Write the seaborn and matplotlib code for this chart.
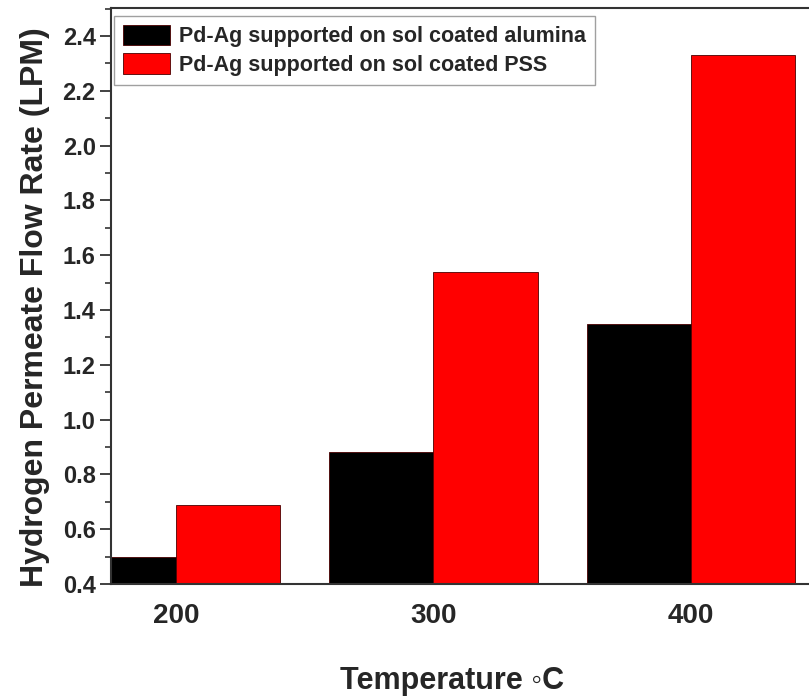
import numpy as np
import pandas as pd
import matplotlib
matplotlib.use("Agg")
import matplotlib.pyplot as plt
import seaborn as sns
from matplotlib.ticker import MultipleLocator

# Data
temperatures = ["200", "300", "400"]
alumina_flow = [0.50, 0.88, 1.35]
pss_flow = [0.69, 1.54, 2.33]
series_names = ["Pd-Ag supported on sol coated alumina",
                "Pd-Ag supported on sol coated PSS"]

df = pd.DataFrame({
    "Temperature": temperatures * 2,
    "Flow": alumina_flow + pss_flow,
    "Support": [series_names[0]] * 3 + [series_names[1]] * 3,
})

sns.set_theme(style="ticks")
plt.rcParams['font.family'] = ['Liberation Sans', 'DejaVu Sans']
plt.rcParams['font.weight'] = 'bold'

fig = plt.figure(figsize=(8.09, 6.98), dpi=100)
ax = fig.add_axes([111 / 809, 1 - 584 / 698, 698 / 809, 576 / 698])

sns.barplot(data=df, x="Temperature", y="Flow", hue="Support",
            palette=["#000000", "#FF0000"], saturation=1, width=0.81, gap=0,
            edgecolor="#4a0000", linewidth=0.6, ax=ax)

ax.set_ylim(0.4, 2.502)
ax.set_xlim(-0.252, 2.458)
ax.yaxis.set_major_locator(MultipleLocator(0.2))
ax.yaxis.set_minor_locator(MultipleLocator(0.1))
ax.tick_params(axis="y", which="major", length=8, width=1.3, labelsize=17, color="#333333", pad=3)
ax.tick_params(axis="y", which="minor", length=4, width=1.2, color="#333333")
ax.tick_params(axis="x", length=0, labelsize=20, pad=14)
for lbl in ax.get_xticklabels() + ax.get_yticklabels():
    lbl.set_fontweight("bold")

for side in ["left", "top", "bottom"]:
    ax.spines[side].set_linewidth(1.5)
    ax.spines[side].set_color("#333333")
ax.spines["right"].set_visible(False)

ax.set_xlabel("Temperature \u25e6C", fontsize=22, fontweight="bold")
ax.set_ylabel("Hydrogen Permeate Flow Rate (LPM)", fontsize=23, fontweight="bold")
ax.xaxis.set_label_coords(0.489, -0.143)
ax.yaxis.set_label_coords(-0.088, 0.48)

leg = ax.legend(loc="upper left", bbox_to_anchor=(0.005, 0.986), fontsize=15.5,
                frameon=True, fancybox=False, handlelength=2.2, handleheight=1.1,
                handletextpad=0.4, borderpad=0.4, labelspacing=0.28, borderaxespad=0)
leg.get_frame().set_edgecolor("#888888")
leg.get_frame().set_linewidth(1.0)
for t in leg.get_texts():
    t.set_fontweight("bold")

fig.savefig("out.png", dpi=100)
